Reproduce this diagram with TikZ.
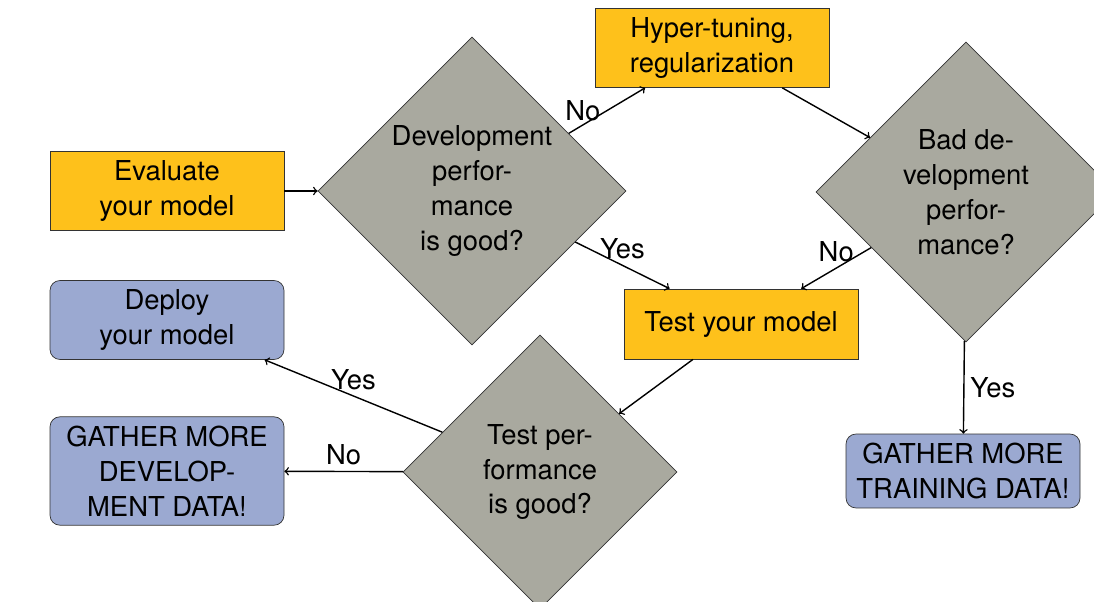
\documentclass[tikz,border=0pt]{standalone}
\usepackage{fontspec}
\setmainfont{TeX Gyre Heros}
\usetikzlibrary{shapes.geometric}
\definecolor{boxorange}{RGB}{254,193,27}
\definecolor{boxblue}{RGB}{155,169,209}
\definecolor{diagray}{RGB}{169,169,159}
\newcommand{\fs}{\fontsize{15.6pt}{19.9pt}\selectfont}
\tikzset{
    b1/.style={draw=black!80, fill=boxorange, align=center, minimum width=4.68cm, minimum height=1.4cm, inner sep=0.18cm},
    b2/.style={draw=black!80, fill=boxblue, rounded corners=0.2cm, align=center, minimum width=4.68cm, minimum height=1.4cm, inner sep=0.18cm},
    d1/.style={draw=black!80, fill=diagray, diamond, aspect=1, align=center, inner sep=0pt},
    e1/.style={draw=black, ->, line width=0.8pt}
}

\begin{document}
\begin{tikzpicture}[xscale=1.0, yscale=1.0, font=\fs]

\useasboundingbox (0,0) rectangle (21.88,-12.04);

% Row 1 (top)
\node[b1] (Hyper) at (14.24, -0.96) {Hyper-tuning,\\regularization};

% Row 2 (first questions)
\node[b1] (Eval) at (3.34, -3.82) {Evaluate\\your model};
\node[d1, minimum size=6.16cm] (DevQ) at (9.44, -3.82) {Development\\perfor-\\mance\\is good?};
\node[d1, minimum size=6.0cm] (BadQ) at (19.32, -3.84) {Bad de-\\velopment\\perfor-\\mance?};

% Row 3
\node[b2] (Deploy) at (3.34, -6.40) {Deploy\\your model};
\node[b1] (Test) at (14.82, -6.48) {Test your model};

% Row 4 (bottom)
\node[b2] (MoreDev) at (3.34, -9.42) {GATHER MORE\\DEVELOP-\\MENT DATA!};
\node[d1, minimum size=5.48cm] (TestQ) at (10.80, -9.44) {Test per-\\formance\\is good?};
\node[b2] (MoreTrain) at (19.26, -9.42) {GATHER MORE\\TRAINING DATA!};

% Development loop
\draw[e1] (Eval) -- (DevQ);
\draw[e1] (DevQ) -- node[left] {No} (Hyper);
\draw[e1] (Hyper) -- (BadQ);
\draw[e1] (BadQ) -- node[right] {Yes} (MoreTrain);
\draw[e1] (BadQ) -- node[above] {No} (Test);
\draw[e1] (DevQ) -- node[above] {Yes} (Test);

% Test step
\draw[e1] (Test) -- (TestQ);
\draw[e1] (TestQ) -- node[above] {Yes} (Deploy);
\draw[e1] (TestQ) -- node[above] {No} (MoreDev);

\end{tikzpicture}
\end{document}
